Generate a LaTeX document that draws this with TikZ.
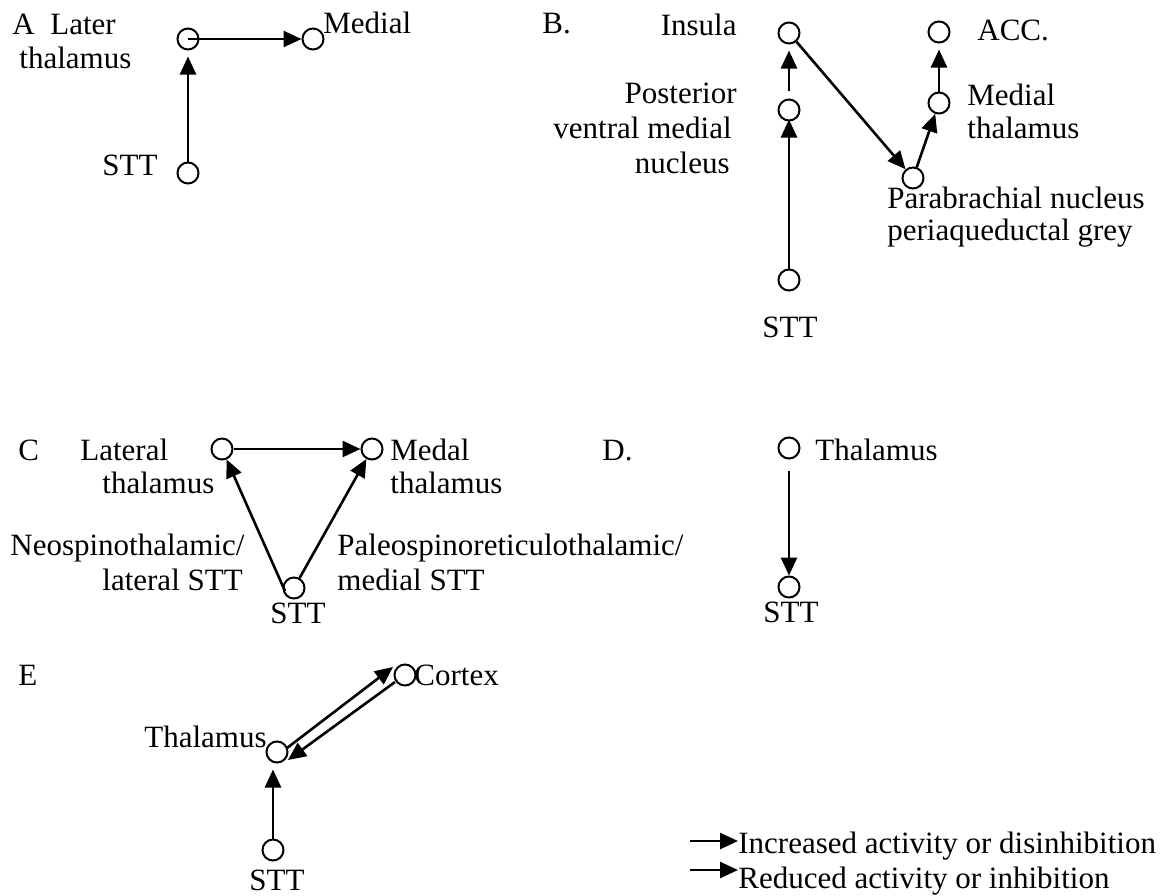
\documentclass[tikz,border=0pt]{standalone}
\usepackage{fontspec}
\setmainfont{Liberation Serif}
\usetikzlibrary{arrows.meta,calc}
\begin{document}
\begin{tikzpicture}[x=0.5pt,y=-0.5pt,
  nd/.style={circle,draw,line width=1pt,minimum size=10.5pt,inner sep=0pt},
  lbl/.style={inner sep=0pt,font=\fontsize{15.5}{18}\selectfont},
  arr/.style={-{Triangle[length=9pt,width=8pt]},line width=1.3pt}]
\useasboundingbox[fill=white] (0,0) rectangle (1162,895);
% ---------- A ----------
\node[nd] (aL) at (188,39) {};
\node[nd] (aM) at (313,39) {};
\node[nd] (aS) at (188,173) {};
\node[lbl,anchor=base west] (aLab) at (12,34) {A};
\node[lbl,anchor=base west] (aT1) at (50,34) {Later};
\node[lbl,anchor=base west] (aT2) at (19,68) {thalamus};
\node[lbl,anchor=base west] (aSt) at (102,175) {STT};
\node[lbl,anchor=base west] (aMt) at (323,33) {Medial};
\draw[arr,shorten >=3pt] (aS) -- (aL);
\draw[arr] (aL.center) -- (aM);
% ---------- B ----------
\node[nd] (bI) at (789,33) {};
\node[nd] (bP) at (789,110) {};
\node[nd] (bS) at (789,280) {};
\node[nd] (bPB) at (913,178) {};
\node[nd] (bM) at (939,103) {};
\node[nd] (bA) at (939,32) {};
\node[lbl,anchor=base west] (bLab) at (542,33) {B.};
\node[lbl,anchor=base east] (bIt) at (737,35) {Insula};
\node[lbl,anchor=base east] (bP1) at (737,103) {Posterior};
\node[lbl,anchor=base east] (bP2) at (732,138) {ventral medial};
\node[lbl,anchor=base east] (bP3) at (730,173) {nucleus};
\node[lbl,anchor=base] (bSt) at (790,337) {STT};
\node[lbl,anchor=base west] (bAt) at (977,40) {ACC.};
\node[lbl,anchor=base west] (bM1) at (967,105) {Medial};
\node[lbl,anchor=base west] (bM2) at (967,138) {thalamus};
\node[lbl,anchor=base west] (bPB1) at (887,208) {Parabrachial nucleus};
\node[lbl,anchor=base west] (bPB2) at (887,240) {periaqueductal grey};
\draw[arr,shorten >=-1pt] (bS) -- (bP);
\draw[arr,shorten <=4pt,shorten >=3pt] (bP) -- (bI);
\draw[arr] (bI) -- (bPB);
\draw[arr] (bPB) -- (bM);
\draw[arr,shorten >=3pt] (bM) -- (bA);
% ---------- C ----------
\node[nd] (cL) at (222,449) {};
\node[nd] (cM) at (372,449) {};
\node[nd] (cS) at (294,588) {};
\node[lbl,anchor=base west] (cLab) at (18,460) {C};
\node[lbl,anchor=base west] (cL1) at (80,460) {Lateral};
\node[lbl,anchor=base west] (cL2) at (102,493) {thalamus};
\node[lbl,anchor=base west] (cM1) at (390,460) {Medal};
\node[lbl,anchor=base west] (cM2) at (390,493) {thalamus};
\node[lbl,anchor=base west] (cN1) at (10,555) {Neospinothalamic/};
\node[lbl,anchor=base west] (cN2) at (102,590) {lateral STT};
\node[lbl,anchor=base west] (cP1) at (337,555) {Paleospinoreticulothalamic/};
\node[lbl,anchor=base west] (cP2) at (337,590) {medial STT};
\node[lbl,anchor=base] (cSt) at (298,623) {STT};
\draw[arr] (cL) -- (cM);
\draw[arr] ([shift={(-9,3)}]cS.center) -- (cL);
\draw[arr] (cS) -- (cM);
% ---------- D ----------
\node[nd] (dT) at (789,448) {};
\node[nd] (dS) at (789,587) {};
\node[lbl,anchor=base west] (dLab) at (602,460) {D.};
\node[lbl,anchor=base west] (dTt) at (815,460) {Thalamus};
\node[lbl,anchor=base] (dSt) at (791,622) {STT};
\draw[arr,shorten <=5.5pt] (dT) -- (dS);
% ---------- E ----------
\node[nd] (eC) at (405,675) {};
\node[nd] (eT) at (277,752) {};
\node[nd] (eS) at (273,850) {};
\node[lbl,anchor=base west] (eLab) at (18,685) {E};
\node[lbl,anchor=base west] (eCt) at (414,685) {Cortex};
\node[lbl,anchor=base east] (eTt) at (267,747) {Thalamus};
\node[lbl,anchor=base] (eSt) at (277,890) {STT};
\draw[arr] ([shift={(10,-4)}]eT.center) -- ([shift={(-12,-8)}]eC.center);
\draw[arr] ([shift={(-10,7)}]eC.center) -- ([shift={(11,8)}]eT.center);
\draw[arr,shorten >=3pt] (eS) -- (eS |- eT.south);
% ---------- legend ----------
\coordinate (l1) at (690,841);
\coordinate (l2) at (690,870);
\node[lbl,anchor=base west] (leg1) at (738,853) {Increased activity or disinhibition};
\node[lbl,anchor=base west] (leg2) at (738,888) {Reduced activity or inhibition};
\draw[arr] (l1) -- (l1 -| leg1.west);
\draw[arr] (l2) -- (l2 -| leg2.west);
\end{tikzpicture}
\end{document}
